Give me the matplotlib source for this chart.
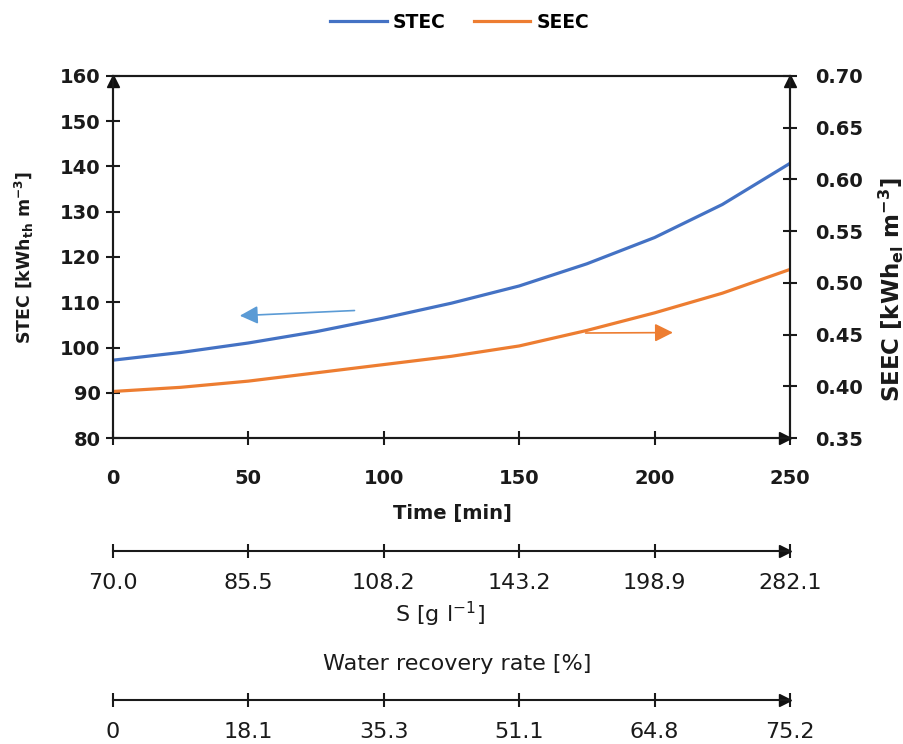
import matplotlib
matplotlib.use('Agg')
import matplotlib.pyplot as plt

plt.rcParams['font.family'] = ['DejaVu Sans']
plt.rcParams['mathtext.default'] = 'regular'

# values
time_min = [0, 25, 50, 75, 100, 125, 150, 175, 200, 225, 250]
stec = [97.2, 98.9, 101.0, 103.5, 106.5, 109.8, 113.6, 118.5, 124.3, 131.6, 140.7]
seec = [0.395, 0.399, 0.405, 0.413, 0.421, 0.429, 0.439, 0.454, 0.471, 0.490, 0.513]

time_ticks = [0, 50, 100, 150, 200, 250]
salinity_labels = ['70.0', '85.5', '108.2', '143.2', '198.9', '282.1']
recovery_labels = ['0', '18.1', '35.3', '51.1', '64.8', '75.2']

blue = '#4472C4'
orange = '#ED7D31'
ink = '#1a1a1a'
W, H = 904, 744

fig = plt.figure(figsize=(9.04, 7.44), dpi=100)
ax = fig.add_axes([113 / W, (H - 438) / H, 677 / W, 362 / H])
ax2 = ax.twinx()

l1, = ax.plot(time_min, stec, color=blue, lw=2.3, label='STEC')
l2, = ax2.plot(time_min, seec, color=orange, lw=2.3, label='SEEC')

ax.set_xlim(0, 250)
ax.set_ylim(80, 160)
ax2.set_ylim(0.35, 0.70)
ax.set_xticks(time_ticks)
ax.set_yticks(range(80, 161, 10))
ax2.set_yticks([0.35, 0.40, 0.45, 0.50, 0.55, 0.60, 0.65, 0.70])
ax2.set_yticklabels(['%.2f' % v for v in ax2.get_yticks()])

for a in (ax, ax2):
    for s in a.spines.values():
        s.set_linewidth(1.5)
        s.set_color(ink)
ax.tick_params(axis='both', direction='inout', length=10, width=1.5,
               labelsize=14, colors=ink)
ax.tick_params(axis='x', pad=17)
ax.tick_params(axis='y', pad=4)
ax2.tick_params(axis='y', direction='inout', length=10, width=1.5,
                labelsize=14, pad=13, colors=ink)
for lab in ax.get_xticklabels() + ax.get_yticklabels() + ax2.get_yticklabels():
    lab.set_fontweight('bold')

fig.text(452 / W, 1 - 513 / H, 'Time [min]', ha='center', va='center',
         fontsize=14, fontweight='bold', color=ink)
fig.text(24 / W, 1 - 257 / H, r'STEC [kWh$_{th}$ m$^{-3}$]', rotation=90,
         ha='center', va='center', fontsize=12.5, fontweight='bold', color=ink)
fig.text(891 / W, 1 - 290 / H, r'SEEC [kWh$_{el}$ m$^{-3}$]', rotation=90,
         ha='center', va='center', fontsize=16.5, fontweight='bold', color=ink)

# axis arrowheads
ax.plot(0, 0.985, marker='^', ms=9, color='#111111', transform=ax.transAxes, clip_on=False)
ax.plot(0.993, 0, marker='>', ms=9, color='#111111', transform=ax.transAxes, clip_on=False)
ax.plot(1, 0.985, marker='^', ms=9, color='#111111', transform=ax.transAxes, clip_on=False)

# arrows pointing at the matching axis
ax.annotate('', xy=(45.8, 107.0), xytext=(90.2, 108.2),
            arrowprops=dict(arrowstyle='-|>,head_length=1.1,head_width=0.55',
                            color='#5B9BD5', lw=1.2))
ax.annotate('', xy=(207.8, 103.3), xytext=(173.5, 103.2),
            arrowprops=dict(arrowstyle='-|>,head_length=1.1,head_width=0.55',
                            color=orange, lw=1.2))

fig.legend(handles=[l1, l2], loc='center', bbox_to_anchor=(460 / W, 1 - 22 / H), ncol=2,
           frameon=False, handlelength=3.0, columnspacing=1.5, handletextpad=0.35,
           prop={'weight': 'bold', 'size': 13.5})


def extra_axis(y_px, labels):
    a = fig.add_axes([113 / W, (H - y_px) / H, 677 / W, 0.0001])
    a.set_xlim(0, 250)
    a.set_yticks([])
    for k in ('top', 'left', 'right'):
        a.spines[k].set_visible(False)
    a.spines['bottom'].set_linewidth(1.5)
    a.spines['bottom'].set_color(ink)
    a.set_xticks(time_ticks)
    a.set_xticklabels(labels)
    a.tick_params(axis='x', direction='inout', length=10, width=1.5,
                  labelsize=16, pad=11, colors=ink)
    a.plot(0.993, 0, marker='>', ms=9, color='#111111', transform=a.transAxes, clip_on=False)
    a.set_facecolor('none')
    return a


extra_axis(551, salinity_labels)
extra_axis(700, recovery_labels)
fig.text(440 / W, 1 - 614 / H, r'S [g l$^{-1}$]', ha='center', va='center',
         fontsize=16, color=ink)
fig.text(457 / W, 1 - 664 / H, 'Water recovery rate [%]', ha='center', va='center',
         fontsize=16, color=ink)

fig.savefig('out.png', dpi=100)
